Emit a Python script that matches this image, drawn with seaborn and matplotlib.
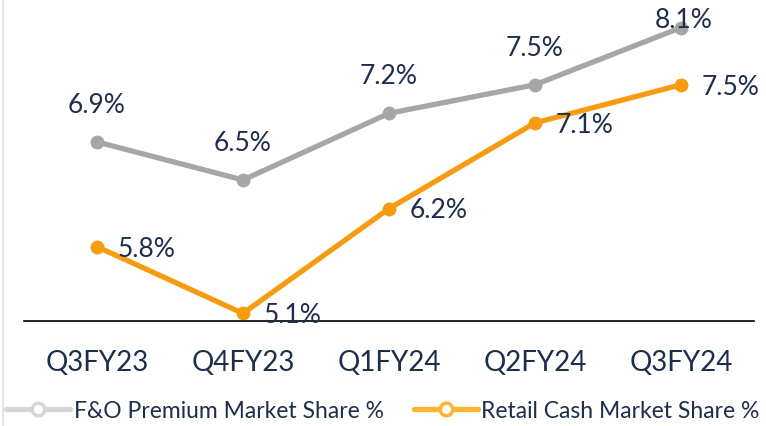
import matplotlib
matplotlib.use("Agg")
import matplotlib.pyplot as plt
from matplotlib.lines import Line2D
import seaborn as sns
import pandas as pd

quarters = ["Q3FY23", "Q4FY23", "Q1FY24", "Q2FY24", "Q3FY24"]
fno_share = [6.9, 6.5, 7.2, 7.5, 8.1]
cash_share = [5.8, 5.1, 6.2, 7.1, 7.5]

df = pd.DataFrame({"quarter": quarters, "fno": fno_share, "cash": cash_share})
df["x"] = range(len(df))

sns.set_style("white")
plt.rcParams["font.family"] = ["Lato", "DejaVu Sans"]

gray = "#A6A6A6"
orange = "#F79C10"
navy = "#1F2D4D"

fig = plt.figure(figsize=(7.66, 4.27), dpi=100)
ax = fig.add_axes([24 / 766, 1 - 322 / 427, 730 / 766, 322 / 427])

sns.lineplot(data=df, x="x", y="fno", ax=ax, color=gray, lw=3.8,
             marker="o", markersize=10, markeredgewidth=0)
sns.lineplot(data=df, x="x", y="cash", ax=ax, color=orange, lw=3.8,
             marker="o", markersize=10, markeredgewidth=0)

# labels
for i, v in enumerate(fno_share):
    if i == len(fno_share) - 1:
        ax.annotate(f"{v}%", (i, v), xytext=(2, 6), textcoords="offset points",
                    ha="center", va="center", fontsize=19, color=navy)
    else:
        ax.annotate(f"{v}%", (i, v), xytext=(0, 27), textcoords="offset points",
                    ha="center", va="center", fontsize=19, color=navy)
for i, v in enumerate(cash_share):
    ax.annotate(f"{v}%", (i, v), xytext=(15, -1), textcoords="offset points",
                ha="left", va="center", fontsize=19, color=navy)

ax.set_xlim(-0.5, 4.5)
ax.set_ylim(5.02, 8.4)
ax.set_xticks(df["x"])
ax.set_xticklabels(quarters, fontsize=20, color=navy)
ax.tick_params(axis="x", length=0, pad=20)
ax.set_yticks([])
ax.set_xlabel("")
ax.set_ylabel("")
for s in ["top", "right", "left"]:
    ax.spines[s].set_visible(False)
ax.spines["bottom"].set_color("black")
ax.spines["bottom"].set_linewidth(1.2)

# faint frame line on the left
fig.add_artist(Line2D([3 / 766, 3 / 766], [0, 1], color="#E3E3E3", lw=1.5))

handles = [
    Line2D([], [], color="#D6D6D6", lw=3.8, marker="o", markersize=9,
           markerfacecolor="white", markeredgewidth=2.5),
    Line2D([], [], color="#FDB431", lw=3.8, marker="o", markersize=9,
           markerfacecolor="white", markeredgewidth=2.5),
]
fig.legend(handles, ["F&O Premium Market Share %", "Retail Cash Market Share %"],
           loc="center", bbox_to_anchor=(0.5, 1 - 412 / 427), ncol=2,
           frameon=False, fontsize=16.5, labelcolor=navy, handlelength=2.8,
           handletextpad=0.15, columnspacing=1.3)

fig.savefig("out.png", dpi=100)
